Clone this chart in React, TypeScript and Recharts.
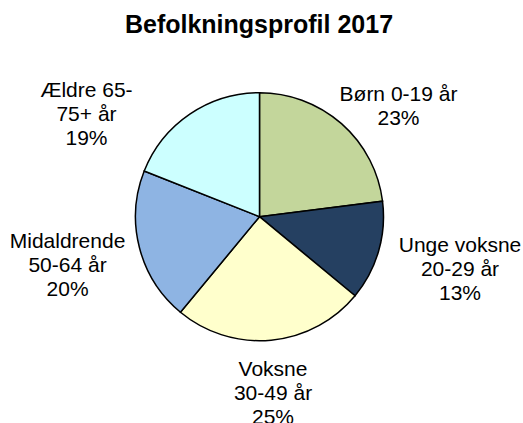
import React from 'react';
import { PieChart, Pie, Cell } from 'recharts';

const title = 'Befolkningsprofil 2017';
const categories = ['Børn 0-19 år', 'Unge voksne 20-29 år', 'Voksne 30-49 år', 'Midaldrende 50-64 år', 'Ældre 65-75+ år'];
const labelLines = [
  ['Børn 0-19 år'],
  ['Unge voksne', '20-29 år'],
  ['Voksne', '30-49 år'],
  ['Midaldrende', '50-64 år'],
  ['Ældre 65-', '75+ år'],
];
const shares = [23, 13, 25, 20, 19];
const colors = ['#C3D69B', '#254061', '#FFFFCC', '#8EB4E3', '#CCFFFF'];
// label box centre relative to pie centre, in units of the outer radius
const labelOffsets = [
  [1.121, -0.899],
  [1.617, 0.415],
  [0.109, 1.415],
  [-1.548, 0.383],
  [-1.395, -0.835],
];

const data = categories.map((name, i) => ({ name, value: shares[i] }));

const FONT = '"Liberation Sans", Arial, sans-serif';
const LINE_H = 24;

const renderLabel = (props: any) => {
  const { cx, cy, outerRadius, index, percent } = props;
  const [ox, oy] = labelOffsets[index];
  const x = cx + ox * outerRadius;
  const yc = cy + oy * outerRadius;
  const lines = [...labelLines[index], `${Math.round(percent * 100)}%`];
  const firstBase = yc + 7.5 - ((lines.length - 1) * LINE_H) / 2;
  return (
    <text x={x} y={firstBase} textAnchor="middle" fontFamily={FONT} fontSize={21} fill="#000">
      {lines.map((l, i) => (
        <tspan key={i} x={x} y={firstBase + i * LINE_H}>
          {l}
        </tspan>
      ))}
    </text>
  );
};

export default function App() {
  return (
    <div style={{ position: 'absolute', left: 0, top: 0, width: 523, height: 423, background: '#fff', overflow: 'hidden' }}>
      <PieChart width={523} height={423} margin={{ top: 0, right: 0, bottom: 0, left: 0 }}>
        <Pie
          data={data}
          dataKey="value"
          nameKey="name"
          cx={259.5}
          cy={216.7}
          outerRadius={124}
          startAngle={90}
          endAngle={-270}
          stroke="#000"
          strokeWidth={1.5}
          label={renderLabel}
          labelLine={false}
          isAnimationActive={false}
        >
          {data.map((d, i) => (
            <Cell key={d.name} fill={colors[i]} stroke="#000" strokeWidth={1.5} />
          ))}
        </Pie>
      </PieChart>
      <svg width={523} height={60} style={{ position: 'absolute', left: 0, top: 0 }}>
        <text x={259} y={33} textAnchor="middle" fontFamily={FONT} fontSize={25} fontWeight="bold" fill="#000">
          {title}
        </text>
      </svg>
    </div>
  );
}
